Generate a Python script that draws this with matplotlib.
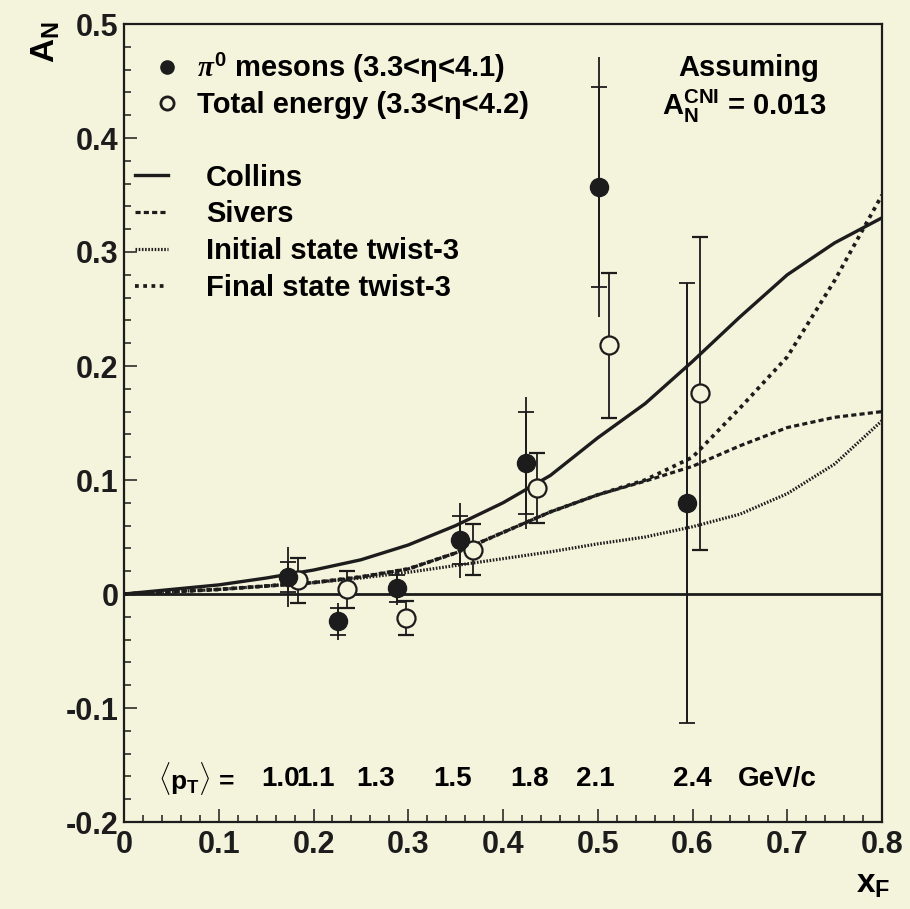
import numpy as np
import matplotlib.pyplot as plt
from matplotlib.lines import Line2D
from matplotlib.ticker import MultipleLocator, FuncFormatter

plt.rcParams['font.family'] = ['Liberation Sans', 'DejaVu Sans']
plt.rcParams['font.weight'] = 'bold'
plt.rcParams['axes.unicode_minus'] = False
plt.rcParams['mathtext.fontset'] = 'custom'
plt.rcParams['mathtext.rm'] = 'Liberation Sans:bold'
plt.rcParams['mathtext.bf'] = 'Liberation Sans:bold'
plt.rcParams['mathtext.it'] = 'Liberation Serif:italic'

# model curves, A_N vs x_F
xf_curve = [0.0, 0.05, 0.1, 0.15, 0.2, 0.25, 0.3, 0.35, 0.4, 0.45, 0.5, 0.55, 0.6, 0.65, 0.7, 0.75, 0.8]
collins = [0.0, 0.004, 0.008, 0.014, 0.021, 0.030, 0.043, 0.060, 0.080, 0.104, 0.137, 0.167, 0.204, 0.243, 0.280, 0.308, 0.330]
sivers = [0.0, 0.002, 0.004, 0.007, 0.010, 0.015, 0.022, 0.036, 0.054, 0.072, 0.087, 0.099, 0.112, 0.130, 0.146, 0.155, 0.160]
initial_tw3 = [0.0, 0.002, 0.004, 0.007, 0.010, 0.014, 0.019, 0.025, 0.031, 0.037, 0.044, 0.050, 0.059, 0.070, 0.088, 0.114, 0.152]
final_tw3 = [0.0, 0.002, 0.004, 0.007, 0.010, 0.015, 0.022, 0.036, 0.054, 0.072, 0.087, 0.100, 0.120, 0.163, 0.208, 0.275, 0.350]

# pi0 mesons (3.3<eta<4.1)
pi0_x = [0.173, 0.226, 0.288, 0.355, 0.424, 0.501, 0.594]
pi0_y = [0.015, -0.024, 0.005, 0.047, 0.115, 0.357, 0.080]
pi0_err = [0.026, 0.016, 0.015, 0.033, 0.058, 0.114, 0.193]
pi0_stat = [0.013, 0.012, 0.012, 0.021, 0.045, 0.088, 0.193]

# total energy (3.3<eta<4.2)
tot_x = [0.184, 0.235, 0.298, 0.368, 0.436, 0.512, 0.608]
tot_y = [0.012, 0.004, -0.021, 0.039, 0.093, 0.218, 0.176]
tot_err = [0.020, 0.016, 0.015, 0.022, 0.031, 0.064, 0.137]

pt_x = [0.165, 0.202, 0.265, 0.347, 0.428, 0.497, 0.600]
pt_labels = ['1.0', '1.1', '1.3', '1.5', '1.8', '2.1', '2.4']

bg = '#f4f3dc'
ink = '#1c1c1c'

fig = plt.figure(figsize=(9.10, 9.09), dpi=100, facecolor=bg)
ax = fig.add_axes([124/910, 1-822/909, 758/910, 798/909], facecolor=bg)

ax.axhline(0, color=ink, lw=2.0, zorder=1)

l_col, = ax.plot(xf_curve, collins, color=ink, lw=2.4, label='Collins')
l_siv, = ax.plot(xf_curve, sivers, color=ink, lw=2.3, ls=(0, (1.6, 1.0)), label='Sivers')
l_ini, = ax.plot(xf_curve, initial_tw3, color=ink, lw=2.3, ls=(0, (0.5, 0.5)), label='Initial state twist-3')
l_fin, = ax.plot(xf_curve, final_tw3, color=ink, lw=2.7, ls=(0, (1.0, 1.2)), label='Final state twist-3')

ax.errorbar(tot_x, tot_y, yerr=tot_err, fmt='o', ms=13, mfc=bg, mec=ink, mew=1.6,
            ecolor=ink, elinewidth=1.3, capsize=6, capthick=1.3, zorder=3)
ax.errorbar(pi0_x, pi0_y, yerr=pi0_err, fmt='none', ecolor=ink, elinewidth=1.3, capsize=0, zorder=4)
ax.errorbar(pi0_x, pi0_y, yerr=pi0_stat, fmt='o', ms=13, mfc=ink, mec=ink,
            ecolor=ink, elinewidth=1.3, capsize=6, capthick=1.3, zorder=4)

h_pi = Line2D([], [], marker='o', ls='none', ms=9.5, mfc=ink, mec=ink)
h_tot = Line2D([], [], marker='o', ls='none', ms=9.5, mfc=bg, mec=ink, mew=2)
leg1 = ax.legend([h_pi, h_tot],
                 [r'$\pi^{\mathbf{0}}$ mesons (3.3<η<4.1)', 'Total energy (3.3<η<4.2)'],
                 loc='upper left', bbox_to_anchor=(0.037, 0.966), frameon=False,
                 fontsize=21, handlelength=1.0, handletextpad=0.55, labelspacing=0.22,
                 borderaxespad=0, borderpad=0)
ax.add_artist(leg1)
ax.legend(handles=[l_col, l_siv, l_ini, l_fin], loc='upper left', bbox_to_anchor=(0.0145, 0.825),
          frameon=False, fontsize=21, handlelength=1.14, handletextpad=1.3, labelspacing=0.3,
          borderaxespad=0, borderpad=0)

ax.text(0.659, 0.461, 'Assuming', fontsize=21, ha='center', va='center')
ax.text(0.655, 0.428, r'$\mathbf{A_N^{CNI}}$ = 0.013', fontsize=21, ha='center', va='center')

ax.text(0.036, -0.162, r'$\langle\mathbf{p_T}\rangle$ =', fontsize=19, ha='left', va='center')
for px, lab in zip(pt_x, pt_labels):
    ax.text(px, -0.162, lab, fontsize=20, ha='center', va='center')
ax.text(0.690, -0.162, 'GeV/c', fontsize=20, ha='center', va='center')

ax.set_xlim(0, 0.8)
ax.set_ylim(-0.2, 0.5)
ax.xaxis.set_major_locator(MultipleLocator(0.1))
ax.xaxis.set_minor_locator(MultipleLocator(0.02))
ax.yaxis.set_major_locator(MultipleLocator(0.1))
ax.yaxis.set_minor_locator(MultipleLocator(0.02))
fmt = FuncFormatter(lambda v, pos: '0' if abs(v) < 1e-9 else f'{v:.1f}')
ax.xaxis.set_major_formatter(fmt)
ax.yaxis.set_major_formatter(fmt)
ax.tick_params(which='both', direction='in', top=False, right=False, width=1.1, colors=ink, labelsize=22)
ax.tick_params(which='major', length=9.5)
ax.tick_params(which='minor', length=5)
ax.tick_params(axis='x', pad=6)
ax.tick_params(axis='y', pad=4)
for s in ax.spines.values():
    s.set_linewidth(1.6)
    s.set_color(ink)

fig.text(46/910, 1-42/909, r'$\mathbf{A_N}$', fontsize=24, rotation=90, ha='center', va='center')
fig.text(873/910, 1-885/909, r'$\mathbf{x_F}$', fontsize=24, ha='center', va='center')

fig.savefig('out.png', dpi=100, facecolor=bg)
